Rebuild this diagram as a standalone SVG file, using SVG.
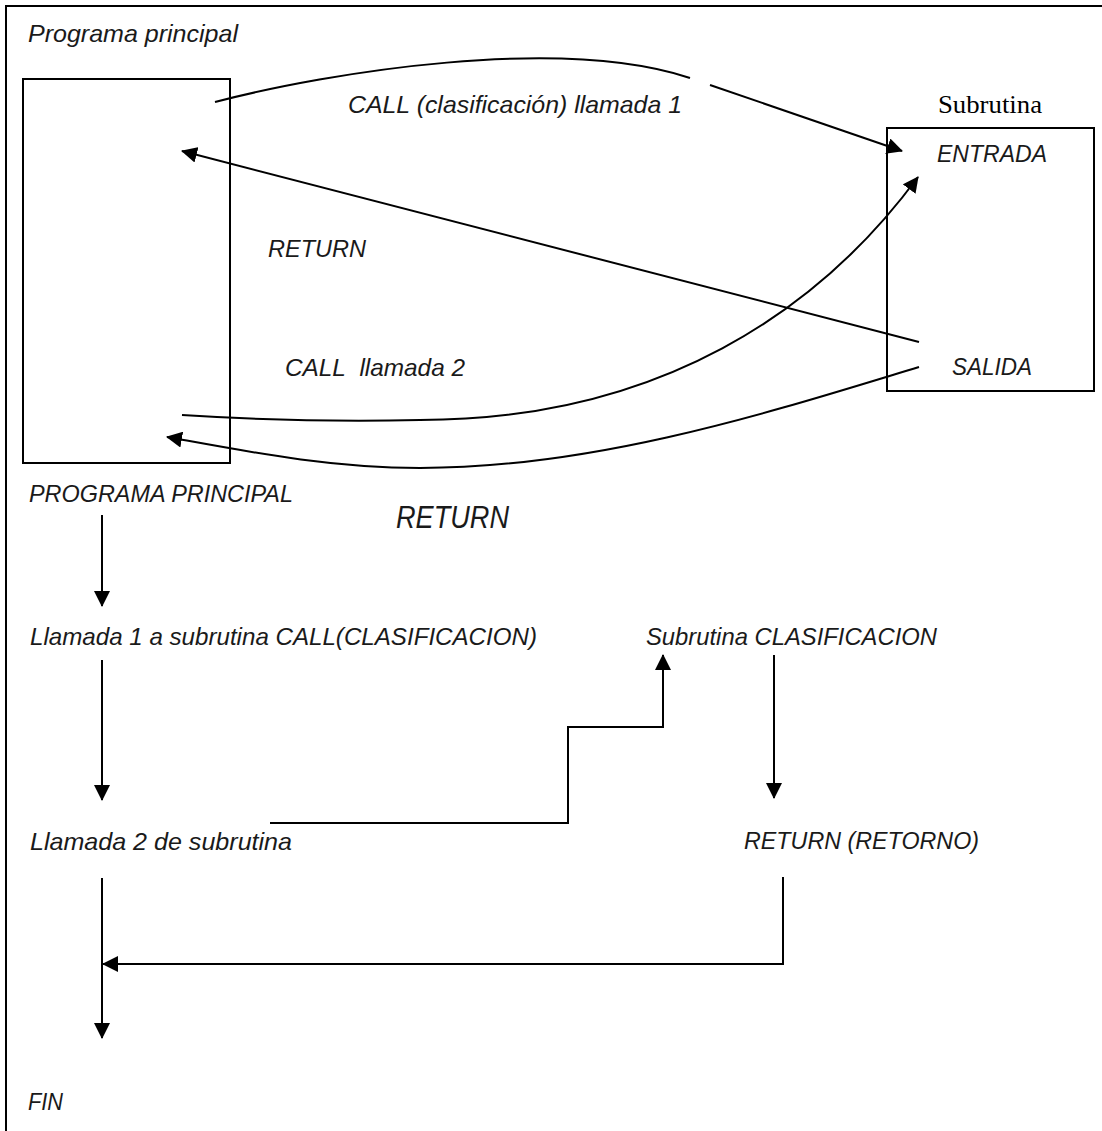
<svg xmlns="http://www.w3.org/2000/svg" width="1102" height="1131" viewBox="0 0 1102 1131">
  <style>
    .lbl { font-family: "Liberation Sans", Arial, sans-serif; font-style: italic; font-size: 24px; fill: #1a1a1a; }
    .big { font-size: 32px; }
    .serif { font-family: "Liberation Serif", "Times New Roman", serif; font-style: normal; font-size: 26px; fill: #000; }
    .box { fill: none; stroke: #000; stroke-width: 2; }
    .wire { fill: none; stroke: #000; stroke-width: 2; }
  </style>
  <defs>
    <marker id="arrow" viewBox="0 0 16 16" refX="15" refY="8" markerWidth="16" markerHeight="16" markerUnits="userSpaceOnUse" orient="auto">
      <path d="M0,0 L16,8 L0,16 z" fill="#000"/>
    </marker>
  </defs>
  <rect width="1102" height="1131" fill="#fff"/>

  <!-- outer frame (top and left edges visible) -->
  <path d="M6,1131 L6,6 L1102,6" class="box"/>

  <text class="lbl" x="28" y="42" textLength="210" lengthAdjust="spacingAndGlyphs">Programa principal</text>

  <!-- main program block -->
  <g id="main-program">
    <rect x="23" y="79" width="207" height="384" class="box"/>
    <text class="lbl" x="29" y="502" textLength="264" lengthAdjust="spacingAndGlyphs">PROGRAMA PRINCIPAL</text>
  </g>

  <!-- subroutine block -->
  <g id="subroutine">
    <text class="serif" x="938" y="113" textLength="104" lengthAdjust="spacingAndGlyphs">Subrutina</text>
    <rect x="887" y="128" width="207" height="263" class="box"/>
    <text class="lbl" x="937" y="162" textLength="110" lengthAdjust="spacingAndGlyphs">ENTRADA</text>
    <text class="lbl" x="952" y="375" textLength="80" lengthAdjust="spacingAndGlyphs">SALIDA</text>
  </g>

  <!-- flow steps -->
  <g id="step-call1">
    <text class="lbl" x="30" y="645" textLength="507" lengthAdjust="spacingAndGlyphs">Llamada 1 a subrutina CALL(CLASIFICACION)</text>
  </g>
  <g id="step-sub">
    <text class="lbl" x="646" y="645" textLength="291" lengthAdjust="spacingAndGlyphs">Subrutina CLASIFICACION</text>
  </g>
  <g id="step-call2">
    <text class="lbl" x="30" y="850" textLength="262" lengthAdjust="spacingAndGlyphs">Llamada 2 de subrutina</text>
  </g>
  <g id="step-return">
    <text class="lbl" x="744" y="849" textLength="235" lengthAdjust="spacingAndGlyphs">RETURN (RETORNO)</text>
  </g>
  <g id="step-end">
    <text class="lbl" x="28" y="1110" textLength="35" lengthAdjust="spacingAndGlyphs">FIN</text>
  </g>

  <!-- connectors -->
  <g id="connectors">
    <!-- CALL 1 -->
    <path d="M215,102 C330,72 560,35 690,78" class="wire"/>
    <path d="M710,85 L902,151" class="wire" marker-end="url(#arrow)"/>
    <text class="lbl" x="348" y="113" textLength="334" lengthAdjust="spacingAndGlyphs">CALL (clasificación) llamada 1</text>
    <!-- RETURN 1 -->
    <path d="M919,342 L182,151" class="wire" marker-end="url(#arrow)"/>
    <text class="lbl" x="268" y="257" textLength="98" lengthAdjust="spacingAndGlyphs">RETURN</text>
    <!-- CALL 2 -->
    <path d="M182,415 C260,420 330,422 420,420 C660,420 820,310 918,177" class="wire" marker-end="url(#arrow)"/>
    <text class="lbl" x="285" y="376" textLength="180" lengthAdjust="spacingAndGlyphs">CALL&#160; llamada 2</text>
    <!-- RETURN 2 -->
    <path d="M919,367 C780,409 600,468 420,468 C330,468 250,452 167,437" class="wire" marker-end="url(#arrow)"/>
    <text class="lbl big" x="396" y="528" textLength="113" lengthAdjust="spacingAndGlyphs">RETURN</text>

    <!-- flow -->
    <path d="M102,515 L102,606" class="wire" marker-end="url(#arrow)"/>
    <path d="M102,660 L102,800" class="wire" marker-end="url(#arrow)"/>
    <path d="M270,823 L568,823 L568,727 L663,727 L663,655" class="wire" marker-end="url(#arrow)"/>
    <path d="M774,655 L774,798" class="wire" marker-end="url(#arrow)"/>
    <path d="M783,877 L783,964 L103,964" class="wire" marker-end="url(#arrow)"/>
    <path d="M102,878 L102,1038" class="wire" marker-end="url(#arrow)"/>
  </g>
</svg>
